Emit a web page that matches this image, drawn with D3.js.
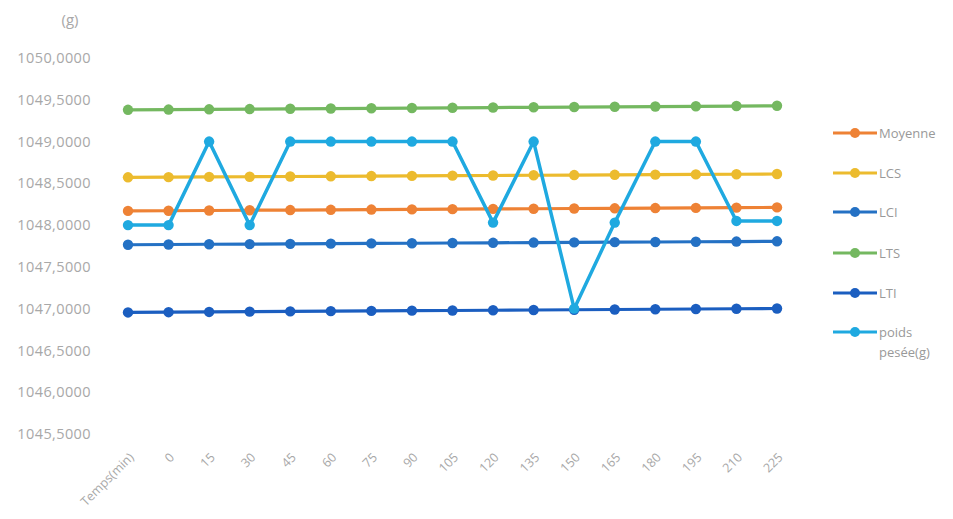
<!DOCTYPE html>
<html>
<head>
<meta charset="utf-8">
<script src="https://cdn.jsdelivr.net/npm/d3@7"></script>
<style>
  html, body { margin: 0; padding: 0; background: #fff; }
  svg { display: block; }
</style>
</head>
<body>
<svg id="chart" width="953" height="519"></svg>
<script>
// Weighing control chart: measured weight against its control and tolerance limits
const categories = ["Temps(min)", "0", "15", "30", "45", "60", "75", "90", "105",
  "120", "135", "150", "165", "180", "195", "210", "225"];

const moyenne = [1048.170, 1048.172, 1048.175, 1048.178, 1048.180, 1048.183, 1048.186, 1048.188,
  1048.191, 1048.194, 1048.196, 1048.199, 1048.201, 1048.204, 1048.206, 1048.209, 1048.212];
const lcs = [1048.572, 1048.574, 1048.577, 1048.579, 1048.582, 1048.584, 1048.587, 1048.589,
  1048.592, 1048.594, 1048.597, 1048.599, 1048.602, 1048.604, 1048.607, 1048.609, 1048.612];
const lci = [1047.765, 1047.768, 1047.771, 1047.773, 1047.776, 1047.778, 1047.781, 1047.783,
  1047.786, 1047.788, 1047.791, 1047.793, 1047.796, 1047.798, 1047.801, 1047.803, 1047.806];
const lts = [1049.380, 1049.383, 1049.386, 1049.389, 1049.392, 1049.395, 1049.398, 1049.401,
  1049.404, 1049.407, 1049.410, 1049.413, 1049.416, 1049.419, 1049.422, 1049.425, 1049.428];
const lti = [1046.955, 1046.958, 1046.961, 1046.964, 1046.967, 1046.970, 1046.973, 1046.976,
  1046.978, 1046.981, 1046.984, 1046.987, 1046.990, 1046.993, 1046.996, 1046.999, 1047.002];
const poids = [1048.00, 1048.00, 1049.00, 1048.00, 1049.00, 1049.00, 1049.00, 1049.00,
  1049.00, 1048.03, 1049.00, 1047.00, 1048.03, 1049.00, 1049.00, 1048.05, 1048.05];

const yTicks = [1045.5, 1046, 1046.5, 1047, 1047.5, 1048, 1048.5, 1049, 1049.5, 1050];
const unitLabel = "(g)";

const series = [
  { name: "Moyenne", values: moyenne, color: "#ee8235" },
  { name: "LCS", values: lcs, color: "#ecbb2e" },
  { name: "LCI", values: lci, color: "#2471c4" },
  { name: "LTS", values: lts, color: "#74b860" },
  { name: "LTI", values: lti, color: "#1b5ec0" },
  { name: "poids pesée(g)", values: poids, color: "#1fa9e0" }
];
// drawing order: limits first, measured weight on top
const drawOrder = ["LTS", "LCS", "Moyenne", "LCI", "LTI", "poids pesée(g)"];

const svg = d3.select("#chart");
const x = d3.scalePoint().domain(categories).range([128, 777]);
const y = d3.scaleLinear().domain([1045.5, 1050]).range([434, 58]);

const fontFamily = "'Open Sans', 'Noto Sans', sans-serif";
const labelColor = "#a8a8a8";

// y axis: labels only, no line or ticks
const fmt = v => v.toFixed(4).replace(".", ",");
const yAxis = d3.axisLeft(y).tickValues(yTicks).tickFormat(fmt).tickSize(0).tickPadding(0);
const gy = svg.append("g").attr("transform", "translate(91,0)").call(yAxis);
gy.select(".domain").remove();
gy.selectAll("text")
  .attr("fill", labelColor)
  .style("font-family", fontFamily)
  .style("font-size", "14.5px")
  .style("letter-spacing", "0.4px");

svg.append("text")
  .attr("x", 70).attr("y", 25)
  .attr("text-anchor", "middle")
  .attr("fill", labelColor)
  .style("font-family", fontFamily)
  .style("font-size", "15px")
  .text(unitLabel);

// x axis: rotated category labels
const xAxis = d3.axisBottom(x).tickSize(0).tickPadding(0);
const gx = svg.append("g").attr("transform", "translate(0,448)").call(xAxis);
gx.select(".domain").remove();
gx.selectAll("text")
  .attr("fill", labelColor)
  .style("font-family", fontFamily)
  .style("font-size", "12.5px")
  .attr("text-anchor", "end")
  .attr("dy", "0.35em")
  .attr("transform", "translate(3,7) rotate(-45)");

const line = d3.line().x((d, i) => x(categories[i])).y(d => y(d));

const byName = Object.fromEntries(series.map(s => [s.name, s]));
drawOrder.forEach(name => {
  const s = byName[name];
  const g = svg.append("g");
  g.append("path")
    .datum(s.values)
    .attr("fill", "none")
    .attr("stroke", s.color)
    .attr("stroke-width", name === "poids pesée(g)" ? 3.5 : 3.2)
    .attr("stroke-linejoin", "round")
    .attr("d", line);
  g.selectAll("circle")
    .data(s.values)
    .join("circle")
    .attr("cx", (d, i) => x(categories[i]))
    .attr("cy", d => y(d))
    .attr("r", 5.2)
    .attr("fill", s.color);
});

// legend
const legend = svg.append("g");
const legendY = [133, 173, 212, 253, 293, 332];
series.forEach((s, i) => {
  const g = legend.append("g").attr("transform", `translate(0,${legendY[i]})`);
  g.append("line").attr("x1", 833).attr("x2", 877).attr("y1", 0).attr("y2", 0)
    .attr("stroke", s.color).attr("stroke-width", 3.2);
  g.append("circle").attr("cx", 855).attr("cy", 0).attr("r", 5).attr("fill", s.color);
  const t = g.append("text")
    .attr("x", 879).attr("y", 0)
    .attr("fill", "#999999")
    .style("font-family", fontFamily)
    .style("font-size", "13px");
  const parts = s.name === "poids pesée(g)" ? ["poids", "pesée(g)"] : [s.name];
  parts.forEach((p, k) => {
    t.append("tspan").attr("x", 879).attr("dy", k === 0 ? "0.35em" : "1.55em").text(p);
  });
});
</script>
</body>
</html>
